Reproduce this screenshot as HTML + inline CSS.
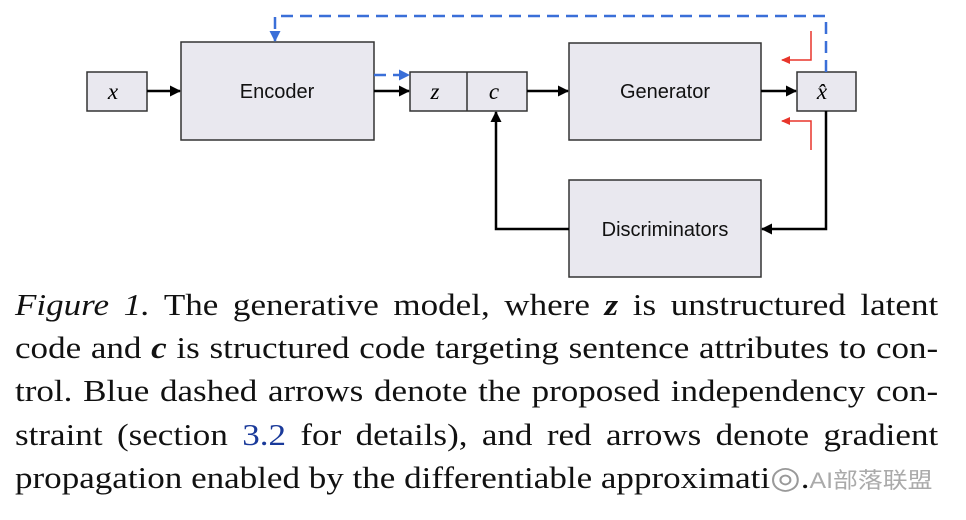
<!DOCTYPE html>
<html><head><meta charset="utf-8"><style>
body{margin:0;width:966px;height:520px;background:#fff;overflow:hidden;position:relative}
.cap{position:absolute;left:15px;top:283px;width:817px;transform:scaleX(1.13);transform-origin:0 0;font-family:"Liberation Serif",serif;font-size:31px;line-height:43.2px;color:#111}
.cap .l{display:block;text-align:justify;text-align-last:justify;white-space:nowrap}
svg text{font-family:"Liberation Sans",sans-serif}
</style></head><body>
<svg width="966" height="285" style="position:absolute;left:0;top:0">
<defs>
<marker id="a" markerWidth="11" markerHeight="11" refX="10" refY="5.5" orient="auto" markerUnits="userSpaceOnUse"><path d="M0,0L11,5.5L0,11z" fill="#000"/></marker>
<marker id="b" markerWidth="11" markerHeight="11" refX="10" refY="5.5" orient="auto" markerUnits="userSpaceOnUse"><path d="M0,0L11,5.5L0,11z" fill="#3a6fd8"/></marker>
<marker id="r" markerWidth="9" markerHeight="8" refX="8" refY="4" orient="auto" markerUnits="userSpaceOnUse"><path d="M0,0L9,4L0,8z" fill="#e8352b"/></marker>
</defs>
<g fill="#e9e8ef" stroke="#333" stroke-width="1.5">
<rect x="87" y="72" width="60" height="39"/>
<rect x="181" y="42" width="193" height="98"/>
<rect x="410" y="72" width="117" height="39"/>
<line x1="467" y1="72" x2="467" y2="111"/>
<rect x="569" y="43" width="192" height="97"/>
<rect x="797" y="72" width="59" height="39"/>
<rect x="569" y="180" width="192" height="97"/>
</g>
<g font-style="italic" font-size="23" text-anchor="middle">
<text x="113" y="99" style="font-family:'Liberation Serif',serif">x</text>
<text x="435" y="99" style="font-family:'Liberation Serif',serif">z</text>
<text x="494" y="99" style="font-family:'Liberation Serif',serif">c</text>
<text x="822" y="99" style="font-family:'Liberation Serif',serif">x̂</text>
</g>
<g font-size="20" text-anchor="middle" fill="#111">
<text x="277" y="98">Encoder</text>
<text x="665" y="98">Generator</text>
<text x="665" y="236">Discriminators</text>
</g>
<g stroke="#000" stroke-width="2.5" fill="none">
<line x1="147" y1="91" x2="180" y2="91" marker-end="url(#a)"/>
<line x1="374" y1="91" x2="409" y2="91" marker-end="url(#a)"/>
<line x1="527" y1="91" x2="568" y2="91" marker-end="url(#a)"/>
<line x1="761" y1="91" x2="796" y2="91" marker-end="url(#a)"/>
<polyline points="826,111 826,229 762,229" marker-end="url(#a)"/>
<polyline points="569,229 496,229 496,112" marker-end="url(#a)"/>
</g>
<g stroke="#3a6fd8" stroke-width="2.5" fill="none" stroke-dasharray="12,7">
<polyline points="826,72 826,16 275,16 275,41" marker-end="url(#b)"/>
<line x1="374" y1="75" x2="409" y2="75" marker-end="url(#b)"/>
</g>
<g stroke="#e8352b" stroke-width="1.5" fill="none">
<polyline points="811,31 811,60 782,60" marker-end="url(#r)"/>
<polyline points="811,150 811,121 782,121" marker-end="url(#r)"/>
</g>
</svg>
<div class="cap">
<span class="l"><i>Figure 1.</i> The generative model, where <b><i>z</i></b> is unstructured latent</span>
<span class="l">code and <b><i>c</i></b> is structured code targeting sentence attributes to con-</span>
<span class="l">trol. Blue dashed arrows denote the proposed independency con-</span>
<span class="l">straint (section <span style="color:#1a3a9a">3.2</span> for details), and red arrows denote gradient</span>
<span style="display:block;white-space:nowrap">propagation enabled by the differentiable approximati<span style="color:#999">◎</span>.<span style="color:#aaa;font-family:'Liberation Sans','Noto Sans CJK SC',sans-serif;font-size:22px">AI部落联盟</span></span>
</div>
</body></html>
